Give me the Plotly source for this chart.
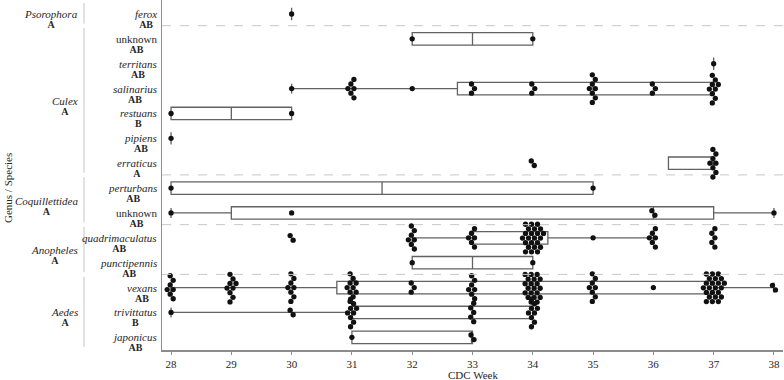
import math
import plotly.graph_objects as go

# ---------------- data ----------------
WEEKS = [28, 29, 30, 31, 32, 33, 34, 35, 36, 37, 38]

SPECIES = ["ferox", "unknown", "territans", "salinarius", "restuans", "pipiens", "erraticus",
           "perturbans", "unknown", "quadrimaculatus", "punctipennis",
           "vexans", "trivittatus", "japonicus"]
SPECIES_LETTER = ["AB", "AB", "AB", "AB", "B", "AB", "A",
                  "AB", "AB", "AB", "AB", "AB", "B", "AB"]
GENUS_OF_ROW = ["Psorophora", "Culex", "Culex", "Culex", "Culex", "Culex", "Culex",
                "Coquillettidea", "Coquillettidea", "Anopheles", "Anopheles",
                "Aedes", "Aedes", "Aedes"]
GENERA = ["Psorophora", "Culex", "Coquillettidea", "Anopheles", "Aedes"]
GENUS_LETTER = ["A", "A", "A", "A", "A"]

# counts per CDC week (28..38), one list per species row
ferox           = [0, 0, 1, 0, 0, 0, 0, 0, 0, 0, 0]
culex_unknown   = [0, 0, 0, 0, 1, 0, 1, 0, 0, 0, 0]
territans       = [0, 0, 0, 0, 0, 0, 0, 0, 0, 1, 0]
salinarius      = [0, 0, 1, 6, 1, 3, 3, 8, 3, 9, 0]
restuans        = [1, 0, 1, 0, 0, 0, 0, 0, 0, 0, 0]
pipiens         = [1, 0, 0, 0, 0, 0, 0, 0, 0, 0, 0]
erraticus       = [0, 0, 0, 0, 0, 0, 2, 0, 0, 8, 0]
perturbans      = [1, 0, 0, 0, 0, 0, 0, 1, 0, 0, 0]
coq_unknown     = [1, 0, 1, 0, 0, 0, 0, 0, 2, 0, 1]
quadrimaculatus = [0, 0, 2, 0, 7, 6, 23, 1, 6, 5, 0]
punctipennis    = [0, 0, 0, 0, 1, 0, 1, 0, 0, 0, 0]
vexans          = [7, 9, 8, 10, 3, 7, 20, 8, 1, 23, 2]
trivittatus     = [1, 0, 2, 9, 0, 5, 9, 0, 0, 0, 0]
japonicus       = [0, 0, 0, 1, 0, 2, 0, 0, 0, 0, 0]

COUNTS = [ferox, culex_unknown, territans, salinarius, restuans, pipiens, erraticus,
          perturbans, coq_unknown, quadrimaculatus, punctipennis,
          vexans, trivittatus, japonicus]

# ---------------- styling / layout ----------------
W, H = 784, 380
ML, MR, MT, MB = 162, 1, 0, 30
XR = [27.85, 38.15]
YR = [13.51, -0.563]
PLOT_W = W - ML - MR
PLOT_H = H - MT - MB
PX_X = PLOT_W / (XR[1] - XR[0])
PX_Y = PLOT_H / (YR[0] - YR[1])

FONT = "Liberation Serif, Times New Roman, serif"
BOX_COLOR = "#626262"
DOT_COLOR = "#111111"
AXIS_COLOR = "#8c8c8c"
TXT = "#262626"


def quant6(v, p):
    n = len(v)
    pos = p * (n + 1)
    if pos <= 1:
        return v[0]
    if pos >= n:
        return v[-1]
    k = int(math.floor(pos))
    f = pos - k
    return v[k - 1] + f * (v[k] - v[k - 1])


# lattice for the swarm of equal values (pixel offsets)
SX, SY = 3.0, 4.6
AX, AY = 5.0, 16.0
YCAP = 13.9
CANDS = []
for c in range(-10, 10):
    for r in range(-4, 5):
        if (c + r) % 2:
            continue
        px = (c + 0.5) * SX
        py = r * SY
        if abs(py) > YCAP:
            continue
        CANDS.append(((px / AX) ** 2 + (py / AY) ** 2, py, px))
CANDS.sort()


def swarm(n):
    pts = [(p[2], p[1]) for p in CANDS[:n]]
    mx = sum(p[0] for p in pts) / n
    my = sum(p[1] for p in pts) / n
    return [(p[0] - mx, p[1] - my) for p in pts]


fig = go.Figure()

dot_x, dot_y = [], []
for row, counts in enumerate(COUNTS):
    vals = []
    for wk, cnt in zip(WEEKS, counts):
        vals += [wk] * cnt
        if cnt:
            for ox, oy in swarm(cnt):
                dot_x.append(wk + ox / PX_X)
                dot_y.append(row + oy / PX_Y)
    vals.sort()
    q1 = quant6(vals, 0.25)
    med = quant6(vals, 0.5)
    q3 = quant6(vals, 0.75)
    iqr = q3 - q1
    lo = min(v for v in vals if v >= q1 - 1.5 * iqr)
    hi = max(v for v in vals if v <= q3 + 1.5 * iqr)
    fig.add_trace(go.Box(
        orientation="h", y=[row], q1=[q1], median=[med], q3=[q3],
        lowerfence=[lo], upperfence=[hi], width=0.5, whiskerwidth=0.8,
        boxpoints=False, fillcolor="rgba(255,255,255,0)",
        line=dict(color=BOX_COLOR, width=1.3),
        showlegend=False, hoverinfo="skip"))

fig.add_trace(go.Scatter(
    x=dot_x, y=dot_y, mode="markers",
    marker=dict(size=5.3, color=DOT_COLOR, line=dict(width=0)),
    showlegend=False, hoverinfo="skip"))

shapes = []
annotations = []

# separators between genera and genus brackets
bracket_x = (84 - ML) / PLOT_W
for gi, g in enumerate(GENERA):
    rows = [i for i, gg in enumerate(GENUS_OF_ROW) if gg == g]
    first, last = rows[0], rows[-1]
    if last < len(SPECIES) - 1:
        shapes.append(dict(type="line", xref="paper", x0=0, x1=1, yref="y",
                           y0=last + 0.47, y1=last + 0.47,
                           line=dict(color="#c8c8c8", width=1, dash="dash")))
    shapes.append(dict(type="line", xref="paper", x0=bracket_x, x1=bracket_x, yref="y",
                       y0=first - 0.44, y1=last + 0.38,
                       line=dict(color="#c4c4c4", width=1)))
    yc = (first + last) / 2
    annotations.append(dict(
        xref="paper", x=(80 - ML) / PLOT_W, yref="y", y=yc, xanchor="right",
        yanchor="middle", yshift=-5, align="center", showarrow=False,
        text=f'<span style="font-size:11px"><i>{g}</i></span><br>'
             f'<span style="font-size:10px"><b>{GENUS_LETTER[gi]}</b></span>',
        font=dict(family=FONT, size=7.4, color=TXT)))

for i, (sp, let) in enumerate(zip(SPECIES, SPECIES_LETTER)):
    name = sp if sp == "unknown" else f"<i>{sp}</i>"
    annotations.append(dict(
        xref="paper", x=0, xshift=-3, yref="y", y=i, xanchor="right",
        yanchor="middle", yshift=-5, align="center", showarrow=False,
        text=f'<span style="font-size:11px">{name}</span><br>'
             f'<span style="font-size:10px"><b>{let}</b></span>',
        font=dict(family=FONT, size=7.4, color=TXT)))

annotations.append(dict(xref="paper", x=0.5, yref="paper", y=0, yshift=-25,
                        xanchor="center", yanchor="middle", showarrow=False,
                        text="CDC Week", font=dict(family=FONT, size=11, color=TXT)))
annotations.append(dict(xref="paper", x=(8 - ML) / PLOT_W, yref="paper",
                        y=(PLOT_H - 188) / PLOT_H, xanchor="center", yanchor="middle",
                        showarrow=False, textangle=-90, text="Genus / Species",
                        font=dict(family=FONT, size=11, color=TXT)))

fig.update_layout(
    width=W, height=H, margin=dict(l=ML, r=MR, t=MT, b=MB),
    paper_bgcolor="white", plot_bgcolor="white",
    font=dict(family=FONT, size=11, color=TXT),
    shapes=shapes, annotations=annotations, boxmode="overlay",
    xaxis=dict(range=XR, tickvals=WEEKS, ticktext=[str(w) for w in WEEKS],
               showgrid=False, zeroline=False, showline=True, linecolor=AXIS_COLOR,
               linewidth=1.5, ticks="outside", ticklen=3, tickcolor=AXIS_COLOR,
               tickfont=dict(family=FONT, size=11, color=TXT)),
    yaxis=dict(range=YR, showgrid=False, zeroline=False, showline=True,
               linecolor=AXIS_COLOR, linewidth=1.5, showticklabels=False, ticks=""),
)

fig.write_html(
    "out.html",
    config={"displayModeBar": False, "staticPlot": True},
    post_script="document.body.style.margin='0';document.body.style.overflow='hidden';",
)
